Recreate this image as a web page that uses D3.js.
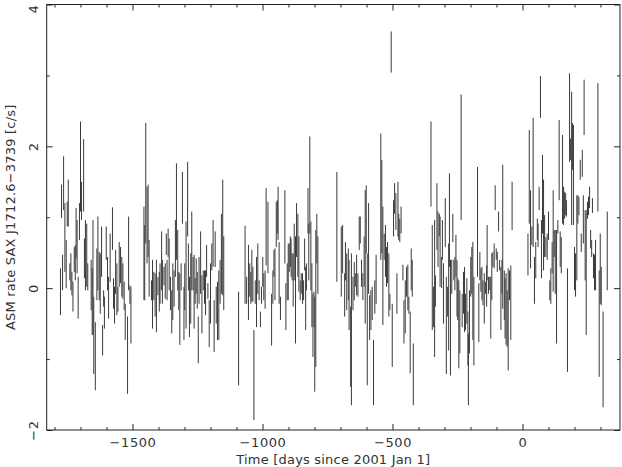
<!DOCTYPE html>
<html>
<head>
<meta charset="utf-8">
<title>ASM light curve SAX J1712.6-3739</title>
<script src="https://cdn.jsdelivr.net/npm/d3@7"></script>
<style>
  body { margin: 0; background: #fff; }
  text { font-family: "DejaVu Sans", "Liberation Sans", sans-serif; font-size: 13px; letter-spacing: 0.6px; fill: #333; }
  text.title { letter-spacing: 0.2px; }
  .tick line { stroke: #222; }
  .bar { stroke: #3a3a3a; stroke-width: 1; }
</style>
</head>
<body>
<div id="chart"></div>
<script>
// observation time, days since 2001 Jan 1
var days = [
  -1777,-1773,-1769,-1765,-1760,-1755,-1751,-1747,-1741,-1737,-1733,-1729,-1724,-1720,-1717,-1713,-1709,-1704,-1700,-1696,
  -1688,-1685,-1681,-1676,-1672,-1659,-1655,-1652,-1649,-1643,-1637,-1633,-1628,-1624,-1619,-1615,-1611,-1608,-1601,-1596,
  -1592,-1586,-1577,-1573,-1569,-1565,-1560,-1556,-1551,-1546,-1541,-1537,-1532,-1528,-1519,-1515,-1510,-1506,-1456,-1453,
  -1449,-1444,-1440,-1436,-1427,-1423,-1418,-1413,-1408,-1402,-1397,-1394,-1388,-1385,-1379,-1374,-1370,-1367,-1363,-1359,
  -1354,-1349,-1345,-1340,-1335,-1331,-1326,-1322,-1318,-1313,-1308,-1302,-1299,-1294,-1288,-1285,-1281,-1276,-1272,-1267,
  -1263,-1259,-1255,-1251,-1247,-1244,-1238,-1233,-1228,-1223,-1219,-1215,-1210,-1205,-1200,-1195,-1190,-1186,-1182,-1178,
  -1173,-1168,-1163,-1158,-1153,-1149,-1092,
  -1067,-1061,-1054,-1049,-1045,-1041,-1037,-1033,-1028,-1023,-1018,-1013,-1008,-1004,-999,-995,-990,-986,-979,-965,
  -960,-956,-952,-947,-943,-940,-936,-931,-914,-910,-905,-901,-897,-893,-890,-886,-882,-878,-873,-869,
  -864,-860,-855,-851,-846,-842,-838,-834,-831,-825,-822,-818,-814,-810,-806,-802,-799,-795,-791,-787,
  -714,-697,-692,-684,
  -681,-676,-670,-667,-661,-658,-652,-647,-643,-638,-633,-628,-624,-619,-614,-609,-605,-601,-597,-592,
  -588,-583,-578,-573,-568,-563,-545,-541,-537,-532,-527,-523,-519,-514,-510,-505,-501,-496,-492,-487,
  -483,-479,-476,-472,-467,-460,-456,-451,-446,-441,-437,-432,-428,-424,-420,
  -352,-347,-342,-338,-335,-329,-325,-320,-317,-311,-308,-304,
  -297,-293,-288,-284,-281,-277,-272,-268,-264,-260,-256,-252,-249,-245,-241,-236,-232,-227,-223,-219,
  -214,-210,-208,-204,-199,-195,-191,-187,-173,-168,-164,-160,-156,-152,-147,-142,-138,-136,-131,-126,
  -122,-118,-114,-109,-105,-101,-97,-92,-88,-83,-79,-76,-70,-67,-63,-59,-55,-50,-45,-40,
  21,26,31,36,41,46,51,57,60,64,69,73,77,81,85,90,95,100,105,109,
  114,118,122,126,131,136,141,145,149,154,158,162,166,169,173,181,185,189,192,196,
  200,204,209,213,217,222,226,230,234,237,241,245,250,254,258,262,266,269,273,277,
  281,290,295,299,303,310,326
];

// upper end of each error bar, c/s
var rateHi = [
  0.28,1.46,0.47,1.86,1.20,0.68,1.22,1.53,0.35,0.49,0.23,0.09,0.58,0.61,1.13,0.96,0.16,1.20,2.35,1.50,
  2.10,0.70,0.96,0.91,0.35,0.40,0.28,0.96,-0.12,-0.48,0.56,1.01,0.51,0.49,0.87,-0.52,-0.03,-0.12,0.87,0.44,
  0.16,0.77,1.14,0.14,0.02,0.54,0.35,0.02,0.65,0.58,0.44,0.35,0.09,-0.22,-0.40,1.01,0.04,0.02,1.15,0.89,
  2.33,1.43,1.46,0.68,0.11,0.40,0.23,0.21,0.40,0.16,0.23,0.35,0.80,0.40,0.30,0.35,0.77,0.40,0.84,0.70,
  0.16,-0.03,0.35,0.25,0.96,1.76,0.82,0.23,0.21,0.35,1.64,0.02,0.35,0.94,1.78,0.63,0.16,0.49,1.08,0.44,
  0.47,0.14,0.42,0.23,-0.40,0.44,0.80,0.18,0.25,0.25,0.25,0.61,0.07,-0.17,0.35,0.63,0.96,-0.17,0.80,0.02,
  0.09,0.25,0.40,1.05,1.53,0.73,-0.05,
  0.88,0.16,0.61,0.35,0.23,0.54,0.30,-0.59,0.11,0.44,0.63,0.11,-0.33,0.02,0.44,0.21,0.25,1.41,1.22,-0.08,
  0.25,0.54,0.56,1.22,1.24,1.43,0.65,-0.12,1.38,0.07,0.35,0.63,0.63,0.73,0.70,0.49,0.49,0.91,0.73,1.20,
  1.05,0.73,0.11,0.21,0.21,0.11,0.70,0.30,0.35,1.41,0.91,2.14,0.94,0.35,-0.08,-0.05,-0.12,0.82,1.05,0.73,
  1.64,0.87,0.89,0.21,
  0.65,0.49,0.56,0.40,-0.26,0.49,0.16,0.37,0.21,0.47,0.21,1.01,1.01,0.40,0.21,0.73,1.38,1.45,0.49,1.20,
  -0.10,-0.03,0.02,-0.73,0.11,0.47,2.18,1.81,1.15,0.77,0.89,0.58,0.65,0.49,-0.08,3.62,-0.22,1.24,1.48,1.34,
  0.21,1.50,1.05,0.98,1.15,0.33,-0.17,0.11,0.30,0.33,-0.12,-0.33,0.56,0.40,-0.78,
  2.35,0.89,0.02,0.96,0.18,1.48,1.08,1.05,1.01,0.44,0.96,0.35,
  1.27,0.16,0.02,0.63,1.62,0.40,0.40,1.05,0.40,0.44,0.75,0.40,0.14,0.11,-0.03,2.73,-0.08,0.23,0.30,-0.08,
  0.14,-0.33,-0.64,-0.03,0.44,0.58,0.65,0.16,1.71,0.07,0.51,0.28,0.30,0.11,0.21,0.09,0.32,0.89,0.16,0.16,
  0.16,0.49,0.51,0.63,1.45,0.56,0.51,1.08,0.40,0.30,0.40,1.74,0.25,0.14,0.21,-0.03,0.28,0.25,0.32,1.50,
  0.77,2.23,1.38,0.87,2.40,0.44,0.65,0.98,0.91,1.43,2.99,0.96,1.88,1.53,1.03,0.72,0.77,1.08,0.11,0.28,
  0.65,1.38,0.82,0.82,0.82,0.96,2.37,0.80,0.72,2.16,1.43,1.36,1.34,1.24,0.28,3.03,2.11,2.77,2.33,2.30,
  0.58,0.49,1.31,1.31,1.29,1.81,0.77,1.95,1.31,2.94,1.10,1.10,1.22,1.29,1.43,0.82,0.68,1.27,0.49,0.47,
  0.68,2.89,0.25,0.77,0.30,-0.33,1.08
];

// lower end of each error bar, c/s
var rateLo = [
  -0.38,0.99,-0.03,1.10,0.23,0.00,0.87,0.87,0.11,-0.03,-0.10,-0.33,0.23,0.11,0.42,0.21,-0.43,0.68,1.08,0.96,
  1.08,0.14,-0.03,0.02,-0.03,-0.31,-0.66,-0.66,-1.21,-1.44,-0.17,-0.03,-0.17,-0.36,0.16,-0.95,-0.26,-0.57,0.40,-0.03,
  -0.43,0.09,0.54,-0.29,-0.50,-0.08,-0.38,-0.33,0.02,0.07,-0.12,-0.15,-0.31,-0.73,-1.49,-0.03,-0.22,-0.78,-0.17,-0.17,
  0.63,0.35,0.44,-0.12,-0.17,-0.57,-0.17,-0.40,-0.62,-0.10,-0.33,-0.22,-0.03,-0.22,0.04,-0.15,0.47,-0.17,0.44,-0.03,
  -0.31,-0.64,-0.45,-0.26,0.16,0.40,-0.03,-0.31,-0.80,-0.03,0.91,-0.73,-0.31,-0.57,0.73,-0.03,-0.69,-0.50,-0.03,-0.03,
  -0.57,-0.22,-0.08,-0.29,-1.06,-0.22,-0.08,-0.64,-0.03,-0.22,-0.38,0.16,-0.15,-0.83,-0.50,0.25,0.30,-0.90,0.30,-0.50,
  -0.73,-0.73,-0.22,-0.08,-0.10,-0.31,-1.37,
  -0.22,-0.22,-0.45,-0.12,-0.22,-0.19,-0.19,-1.86,-0.22,-0.55,-0.08,-0.17,-0.55,-0.22,0.02,-0.17,-0.29,0.32,0.21,-0.81,
  -0.22,0.16,-0.17,0.58,0.77,0.68,-0.22,-0.45,0.35,-0.59,-0.17,-0.17,0.23,0.30,0.16,0.11,-0.26,0.11,-0.78,0.44,
  0.16,-0.05,-0.17,-0.08,-0.22,-0.17,0.25,-0.59,-0.03,0.77,0.11,0.77,-0.03,-0.55,-0.97,-0.55,-1.46,-1.11,0.35,-0.08,
  0.09,-0.12,0.21,-0.40,
  0.11,-0.31,-0.17,-0.59,-1.39,-1.65,-0.31,-0.17,0.02,-0.10,-0.12,0.54,0.63,0.02,-0.17,0.02,-0.50,0.49,-1.37,-0.08,
  -0.73,-0.59,-0.45,-1.65,-0.36,-0.22,0.40,0.49,-0.52,0.40,0.16,0.02,0.07,-0.40,-0.31,3.04,-1.11,0.73,1.05,0.82,
  -0.36,0.73,0.68,0.65,0.77,0.11,-0.78,-0.64,-0.12,-0.31,-0.36,-1.20,-0.03,-0.12,-1.65,
  1.15,-0.59,-0.55,-0.97,-0.26,0.54,0.30,0.73,0.02,0.00,0.40,-0.50,
  0.58,-1.21,-0.40,-0.88,0.30,-1.23,-0.08,0.65,0.11,-0.03,0.16,-0.40,-0.45,-1.13,-0.92,0.96,-0.55,-0.36,-0.62,-0.59,
  -0.50,-1.09,-1.65,-0.92,-0.12,-0.08,-0.73,-1.09,0.16,-0.76,0.11,-0.05,-0.17,-0.24,-0.50,-0.08,-0.26,0.11,-0.08,-0.03,
  -0.71,-0.17,0.30,0.28,1.10,0.40,0.23,0.80,0.25,-0.59,-0.08,-0.29,-0.45,-0.71,-0.80,-0.83,-1.16,-0.17,-0.73,0.82,
  0.18,0.91,0.28,0.61,0.58,-0.22,0.14,0.68,0.58,1.10,2.40,0.14,0.77,0.25,0.44,0.44,0.40,0.68,-0.17,-0.22,
  0.21,-0.05,0.44,-0.08,-0.78,0.77,1.24,0.30,0.21,0.91,0.89,0.98,1.03,1.01,-1.18,1.78,1.81,0.89,1.67,0.89,
  -0.03,-0.12,0.11,0.91,1.03,1.53,0.51,1.57,0.63,2.16,0.11,-0.66,0.98,1.03,1.13,0.56,0.44,1.06,0.14,-0.03,
  -0.03,1.08,-1.25,-0.22,-0.24,-1.68,-0.03
];

var xMajor = [-1500, -1000, -500, 0];
var yMajor = [-2, 0, 2, 4];

(function (d3) {
    'use strict';

    var width = 622, height = 467;
    var mLeft = 46.7, mRight = 620, mTop = 4.5, mBottom = 430;

    var svg = d3.select('#chart').append('svg')
        .attr('width', width)
        .attr('height', height);

    var x = d3.scaleLinear().domain([-1830, 375]).range([mLeft, mRight]);
    var y = d3.scaleLinear().domain([-2, 4]).range([mBottom, mTop]);

    var xMinor = d3.range(-1800, 400, 100).filter(function (d) { return xMajor.indexOf(d) < 0; });
    var yMinor = [-1, 1, 3];
    var fmt = d3.format('d');

    function noText(g) { g.select('.domain').remove(); g.selectAll('text').remove(); }

    // ticks on all four sides, pointing inward
    svg.append('g').attr('transform', 'translate(0,' + mBottom + ')')
        .call(d3.axisBottom(x).tickValues(xMajor).tickFormat(fmt).tickSize(-6).tickPadding(8))
        .call(function (g) { g.select('.domain').remove(); });
    svg.append('g').attr('transform', 'translate(0,' + mBottom + ')')
        .call(d3.axisBottom(x).tickValues(xMinor).tickSize(-3)).call(noText);
    svg.append('g').attr('transform', 'translate(0,' + mTop + ')')
        .call(d3.axisTop(x).tickValues(xMajor).tickSize(-6)).call(noText);
    svg.append('g').attr('transform', 'translate(0,' + mTop + ')')
        .call(d3.axisTop(x).tickValues(xMinor).tickSize(-3)).call(noText);

    var yAxis = svg.append('g').attr('transform', 'translate(' + mLeft + ',0)')
        .call(d3.axisLeft(y).tickValues(yMajor).tickFormat(fmt).tickSize(-6))
        .call(function (g) { g.select('.domain').remove(); });
    yAxis.selectAll('text')
        .attr('transform', 'rotate(-90)')
        .attr('x', 0).attr('y', -9).attr('dy', 0)
        .attr('text-anchor', 'middle');
    // keep the top label inside the picture
    yAxis.selectAll('.tick').filter(function (d) { return d === 4; }).select('text').attr('x', -4);
    svg.append('g').attr('transform', 'translate(' + mLeft + ',0)')
        .call(d3.axisLeft(y).tickValues(yMinor).tickSize(-3)).call(noText);
    svg.append('g').attr('transform', 'translate(' + mRight + ',0)')
        .call(d3.axisRight(y).tickValues(yMajor).tickSize(-6)).call(noText);
    svg.append('g').attr('transform', 'translate(' + mRight + ',0)')
        .call(d3.axisRight(y).tickValues(yMinor).tickSize(-3)).call(noText);

    svg.selectAll('g').attr('font-family', null).attr('font-size', null);

    // frame
    svg.append('rect')
        .attr('x', mLeft).attr('y', mTop)
        .attr('width', mRight - mLeft).attr('height', mBottom - mTop)
        .attr('fill', 'none').attr('stroke', '#222').attr('stroke-width', 1);

    // error bars
    var data = days.map(function (d, i) { return { day: d, lo: rateLo[i], hi: rateHi[i] }; });

    svg.append('g').selectAll('line')
        .data(data)
        .enter()
        .append('line')
        .attr('class', 'bar')
        .attr('x1', function (d) { return x(d.day); })
        .attr('x2', function (d) { return x(d.day); })
        .attr('y1', function (d) { return y(d.hi); })
        .attr('y2', function (d) { return y(d.lo); });

    // labels
    svg.append('text')
        .attr('class', 'title')
        .attr('x', (mLeft + mRight) / 2)
        .attr('y', 464)
        .attr('text-anchor', 'middle')
        .text('Time [days since 2001 Jan 1]');

    svg.append('text')
        .attr('class', 'title')
        .attr('transform', 'translate(14.5,' + (mTop + mBottom) / 2 + ') rotate(-90)')
        .attr('text-anchor', 'middle')
        .text('ASM rate SAX J1712.6\u22123739 [c/s]');
})(window.d3);
</script>
</body>
</html>
